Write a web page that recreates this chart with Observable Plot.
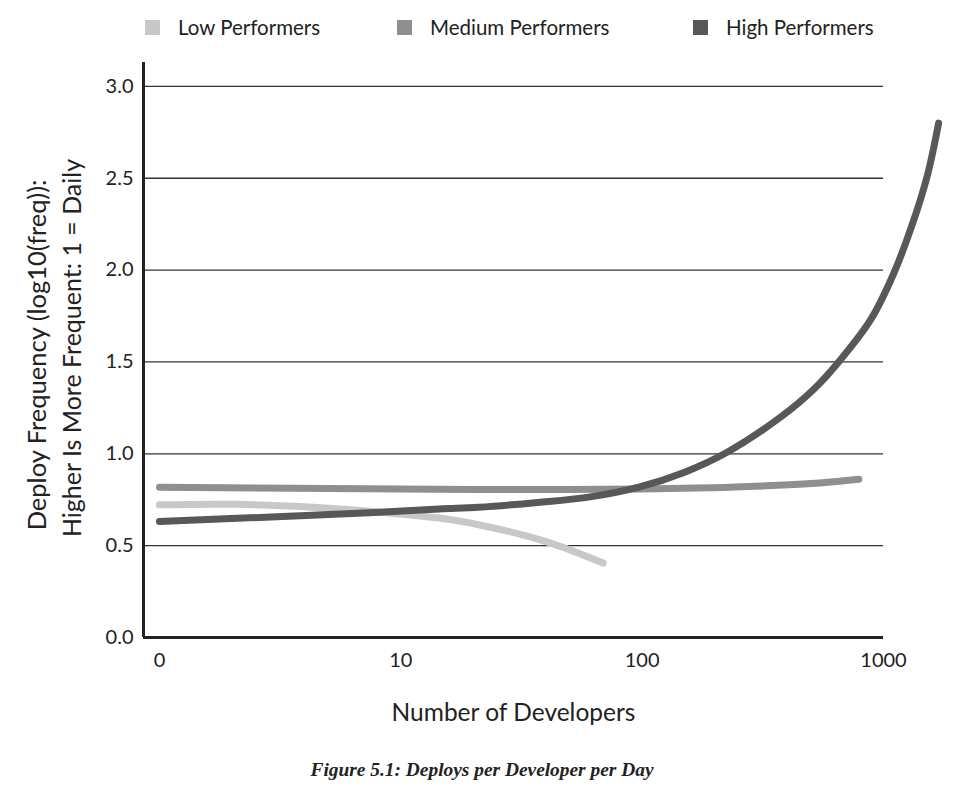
<!DOCTYPE html>
<html>
<head>
<meta charset="utf-8">
<script src="https://cdn.jsdelivr.net/npm/d3@7"></script>
<script src="https://cdn.jsdelivr.net/npm/@observablehq/plot@0.6"></script>
<style>
  body { margin: 0; background: #fff; }
  #wrap { position: relative; width: 964px; height: 787px; overflow: hidden; font-family: Lato, "Open Sans", sans-serif; color: #222; }
  .leg { position: absolute; top: 15px; display: flex; align-items: center; font-size: 20.5px; }
  .sw { width: 15px; height: 15px; margin-right: 18px; }
  #chart { position: absolute; left: 0; top: 50px; }
  #chart svg { overflow: visible; }
  #cap { position: absolute; top: 759px; left: 0; width: 964px; text-align: center; font-family: "Liberation Serif", "DejaVu Serif", serif; font-style: italic; font-weight: bold; font-size: 19.4px; color: #222; }
</style>
</head>
<body>
<div id="wrap">
  <div id="legend"></div>
  <div id="chart"></div>
  <div id="cap">Figure 5.1: Deploys per Developer per Day</div>
</div>
<script>
const seriesNames = ["Low Performers", "Medium Performers", "High Performers"];
const seriesColors = ["#c8c8c8", "#8f8f8f", "#595759"];

const lowDevs = [1, 2.1, 5.6, 10.7, 14.4, 21, 40, 69];
const lowVals = [0.722, 0.725, 0.70, 0.668, 0.65, 0.614, 0.522, 0.405];

const medDevs = [1, 10, 30, 100, 195, 316, 500, 790];
const medVals = [0.818, 0.808, 0.805, 0.808, 0.815, 0.825, 0.838, 0.862];

const highDevs = [1, 2.9, 7.8, 14.4, 21, 37, 60, 96, 150, 226, 375, 513, 652, 885, 1101, 1333, 1523, 1692];
const highVals = [0.632, 0.656, 0.68, 0.70, 0.709, 0.735, 0.764, 0.817, 0.90, 1.01, 1.20, 1.35, 1.50, 1.73, 1.98, 2.27, 2.52, 2.80];

const xTicks = [1, 10, 100, 1000];
const xTickLabels = ["0", "10", "100", "1000"];
const yTicks = [0, 0.5, 1.0, 1.5, 2.0, 2.5, 3.0];

const toRows = (devs, vals, s) => devs.map((d, i) => ({dev: d, val: vals[i], series: s}));
const rows = [
  ...toRows(lowDevs, lowVals, seriesNames[0]),
  ...toRows(medDevs, medVals, seriesNames[1]),
  ...toRows(highDevs, highVals, seriesNames[2])
];

// legend
const legendLeft = [145, 397, 693];
const legend = document.getElementById("legend");
seriesNames.forEach((n, i) => {
  const d = document.createElement("div");
  d.className = "leg";
  d.style.left = legendLeft[i] + "px";
  d.innerHTML = `<span class="sw" style="background:${seriesColors[i]}"></span><span>${n}</span>`;
  legend.appendChild(d);
});

const xMin = 0.859;
const plot = Plot.plot({
  width: 964,
  height: 695,
  marginTop: 12,
  marginBottom: 108,
  marginLeft: 143,
  marginRight: 81,
  style: {fontFamily: "Lato, 'Open Sans', sans-serif", color: "#222", background: "transparent", overflow: "visible"},
  x: {type: "log", domain: [xMin, 1000]},
  y: {domain: [0, 3.13]},
  color: {domain: seriesNames, range: seriesColors},
  marks: [
    Plot.ruleY(yTicks.filter(d => d > 0), {stroke: "#333", strokeWidth: 1.3}),
    Plot.axisX({ticks: xTicks, tickFormat: d => xTickLabels[xTicks.indexOf(d)], tickSize: 0, tickPadding: 15, fontSize: 20, label: null}),
    Plot.axisY({ticks: yTicks, tickFormat: d3.format(".1f"), tickSize: 0, tickPadding: 10, fontSize: 20, label: null}),
    Plot.line(rows, {x: "dev", y: "val", z: "series", stroke: "series", strokeWidth: 7, strokeLinecap: "round", curve: "catmull-rom"}),
    Plot.ruleY([0], {stroke: "#222", strokeWidth: 3}),
    Plot.ruleX([xMin], {stroke: "#222", strokeWidth: 3}),
    Plot.text(["Number of Developers"], {frameAnchor: "bottom", dy: 83, fontSize: 24.5, fill: "#222"}),
    Plot.text(["Deploy Frequency (log10(freq)):"], {frameAnchor: "left", textAnchor: "middle", dx: -106, dy: 5, rotate: -90, fontSize: 25.5, fill: "#222"}),
    Plot.text(["Higher Is More Frequent: 1 = Daily"], {frameAnchor: "left", textAnchor: "middle", dx: -71, dy: -2, rotate: -90, fontSize: 25, fill: "#222"})
  ]
});
document.getElementById("chart").appendChild(plot);
</script>
</body>
</html>
